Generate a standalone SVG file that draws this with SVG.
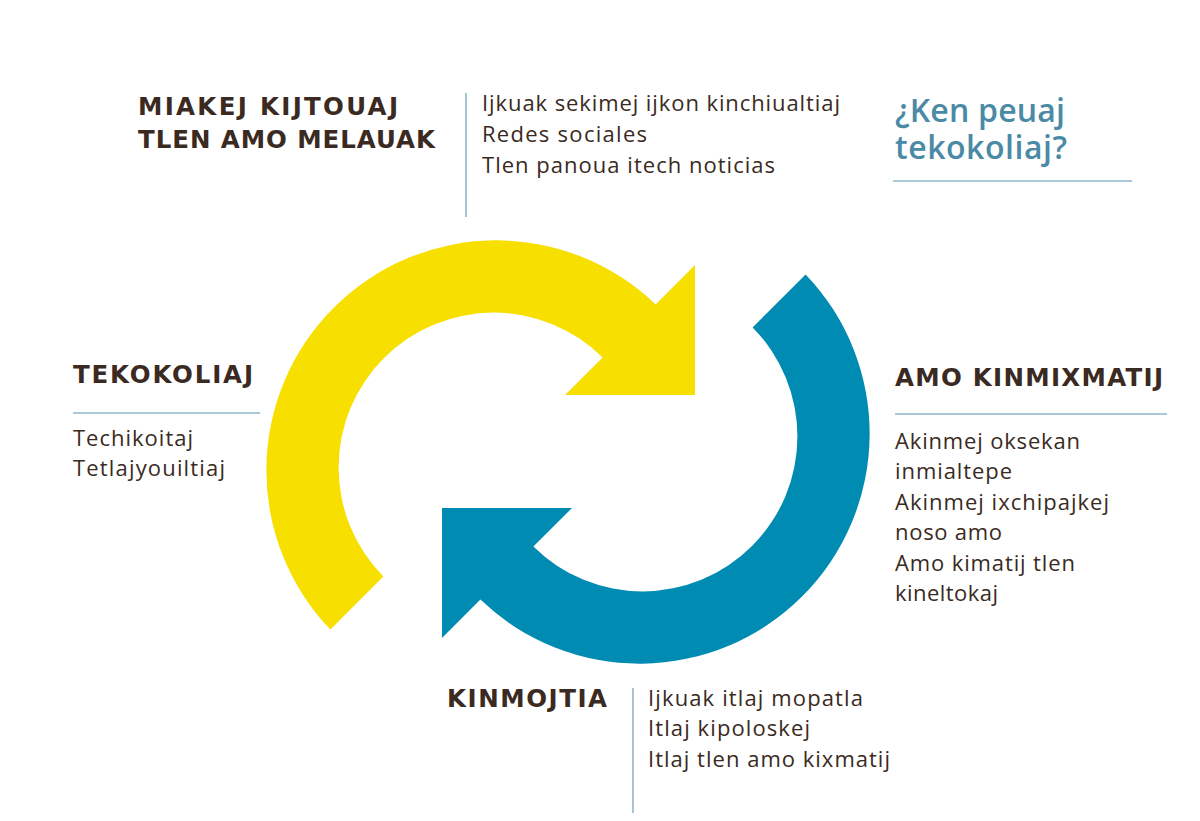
<svg xmlns="http://www.w3.org/2000/svg" width="1200" height="821" viewBox="0 0 1200 821">
<style>
.h{font-family:"DejaVu Sans","Open Sans",sans-serif;font-weight:700;font-size:24.5px;fill:#3a2a22}
.b{font-family:"Open Sans","Liberation Sans",sans-serif;font-weight:400;font-size:22px;fill:#3a2a22}
.q{font-family:"Open Sans","Liberation Sans",sans-serif;font-weight:600;font-size:32px;fill:#4a8aa6}
.rule{stroke:#8fb6c8;stroke-width:1.6;fill:none}
</style>
<rect width="1200" height="821" fill="#ffffff"/>
<g id="connectors">
<path id="yellow-arrow" fill="#f7df00" d="M 330.4 629.6 A 230 230 0 0 1 655.6 304.4 L 695 265 L 695 395 L 565 395 L 602.6 357.4 A 155 155 0 0 0 383.4 576.6 Z"/>
<path id="blue-arrow" fill="#008bb2" d="M 805.6 274.4 A 230 230 0 0 1 480.4 599.6 L 442 638 L 442 508 L 572 508 L 533.4 546.6 A 155 155 0 0 0 752.6 327.4 Z"/>
</g>
<g id="node-miakej">
<text class="h" x="138" y="115" textLength="260" lengthAdjust="spacing">MIAKEJ KIJTOUAJ</text>
<text class="h" x="138" y="148" textLength="297" lengthAdjust="spacing">TLEN AMO MELAUAK</text>
<line class="rule" x1="466" y1="93" x2="466" y2="217"/>
<text class="b" x="482" y="111" textLength="358" lengthAdjust="spacing">Ijkuak sekimej ijkon kinchiualtiaj</text>
<text class="b" x="482" y="142" textLength="165" lengthAdjust="spacing">Redes sociales</text>
<text class="b" x="482" y="173" textLength="293" lengthAdjust="spacing">Tlen panoua itech noticias</text>
</g>
<g id="node-question">
<text class="q" x="895" y="122" textLength="170" lengthAdjust="spacing">¿Ken peuaj</text>
<text class="q" x="895" y="159" textLength="172" lengthAdjust="spacing">tekokoliaj?</text>
<line class="rule" x1="893" y1="181" x2="1132" y2="181"/>
</g>
<g id="node-tekokoliaj">
<text class="h" x="73" y="383" textLength="180" lengthAdjust="spacing">TEKOKOLIAJ</text>
<line class="rule" x1="73" y1="413" x2="260" y2="413"/>
<text class="b" x="73" y="446" textLength="120" lengthAdjust="spacing">Techikoitaj</text>
<text class="b" x="73" y="476" textLength="152" lengthAdjust="spacing">Tetlajyouiltiaj</text>
</g>
<g id="node-amo-kinmixmatij">
<text class="h" x="895" y="386" textLength="268" lengthAdjust="spacing">AMO KINMIXMATIJ</text>
<line class="rule" x1="895" y1="414" x2="1167" y2="414"/>
<text class="b" x="895" y="449" textLength="185" lengthAdjust="spacing">Akinmej oksekan</text>
<text class="b" x="895" y="479" textLength="117" lengthAdjust="spacing">inmialtepe</text>
<text class="b" x="895" y="510" textLength="214" lengthAdjust="spacing">Akinmej ixchipajkej</text>
<text class="b" x="895" y="540" textLength="107" lengthAdjust="spacing">noso amo</text>
<text class="b" x="895" y="571" textLength="180" lengthAdjust="spacing">Amo kimatij tlen</text>
<text class="b" x="895" y="601" textLength="103" lengthAdjust="spacing">kineltokaj</text>
</g>
<g id="node-kinmojtia">
<text class="h" x="447" y="707" textLength="160" lengthAdjust="spacing">KINMOJTIA</text>
<line class="rule" x1="633" y1="688" x2="633" y2="813"/>
<text class="b" x="648" y="706" textLength="215" lengthAdjust="spacing">Ijkuak itlaj mopatla</text>
<text class="b" x="648" y="736" textLength="162" lengthAdjust="spacing">Itlaj kipoloskej</text>
<text class="b" x="648" y="767" textLength="242" lengthAdjust="spacing">Itlaj tlen amo kixmatij</text>
</g>
</svg>
